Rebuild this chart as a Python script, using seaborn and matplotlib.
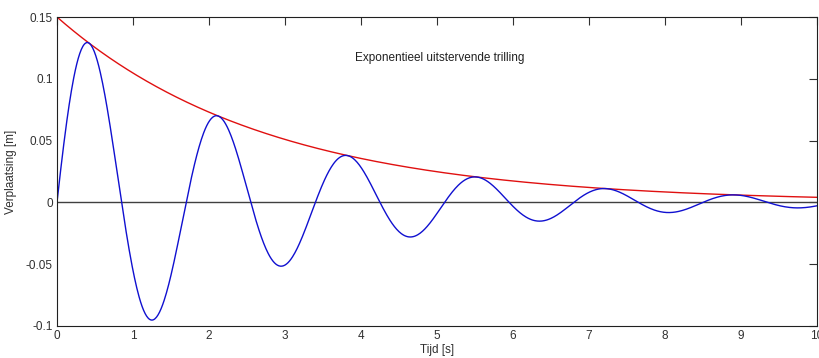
import numpy as np
import pandas as pd
import matplotlib
matplotlib.use("Agg")
import matplotlib.pyplot as plt
import seaborn as sns

# Damped oscillation parameters
amplitude = 0.15          # initial amplitude [m]
decay_rate = 0.36         # exponential decay constant [1/s]
period = 1.7              # oscillation period [s]
t_start, t_end = 0.0, 10.0

# Axis ticks
x_ticks = [0, 1, 2, 3, 4, 5, 6, 7, 8, 9, 10]
y_ticks = [-0.1, -0.05, 0, 0.05, 0.1, 0.15]
y_tick_labels = ["-0.1", "-0.05", "0", "0.05", "0.1", "0.15"]

title_text = "Exponentieel uitstervende trilling"
x_label = "Tijd [s]"
y_label = "Verplaatsing [m]"

t = np.linspace(t_start, t_end, 1001)
omega = 2 * np.pi / period
envelope = amplitude * np.exp(-decay_rate * t)
displacement = envelope * np.sin(omega * t)

df = pd.DataFrame({"t": t, "u": displacement, "env": envelope, "zero": np.zeros_like(t)})

sns.set_style("white")
plt.rcParams["font.family"] = ["Liberation Sans", "DejaVu Sans"]

fig = plt.figure(figsize=(8.2, 3.58), dpi=100)
ax = fig.add_axes([0.0695, 0.0895, 0.9268, 0.863])

sns.lineplot(data=df, x="t", y="zero", ax=ax, color="#404040", linewidth=1.0)
sns.lineplot(data=df, x="t", y="env", ax=ax, color="#e01010", linewidth=1.0)
sns.lineplot(data=df, x="t", y="u", ax=ax, color="#1010d0", linewidth=1.0)

ax.set_xlim(t_start, t_end)
ax.set_ylim(-0.1, 0.15)
ax.set_xticks(x_ticks)
ax.set_xticklabels([str(v) for v in x_ticks])
ax.set_yticks(y_ticks)
ax.set_yticklabels(y_tick_labels)

ax.tick_params(axis="both", direction="in", length=6, width=0.8, colors="#303030",
               labelsize=8.5, top=True, right=True, pad=3)
ax.tick_params(axis="both", labelcolor="#303030")
for s in ax.spines.values():
    s.set_visible(True)
    s.set_color("#202020")
    s.set_linewidth(0.8)

ax.set_xlabel(x_label, fontsize=8.5, color="#303030", labelpad=1)
ax.set_ylabel(y_label, fontsize=8.5, color="#303030", labelpad=6)

ax.text(3.92, 0.1165, title_text, fontsize=8.5, color="#202020", ha="left", va="center")

fig.savefig("out.png", dpi=100, facecolor="white")
